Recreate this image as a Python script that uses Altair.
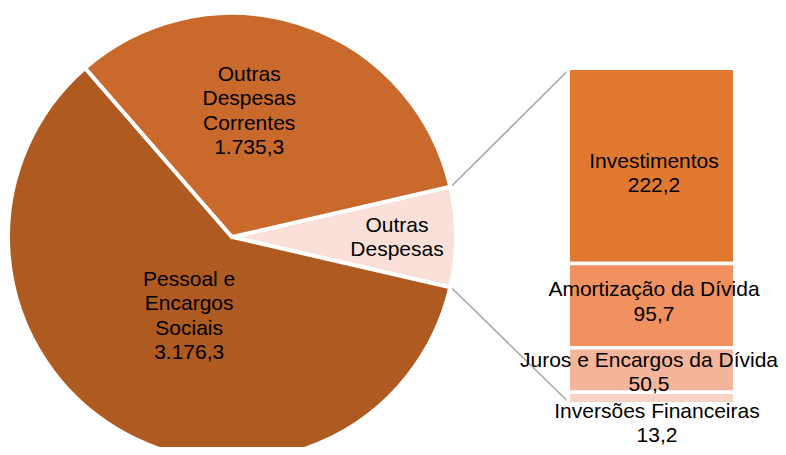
import math
import altair as alt
import pandas as pd

# ---- data ----
bar_categorias = ["Investimentos", "Amortização da Dívida", "Juros e Encargos da Dívida", "Inversões Financeiras"]
bar_valores = [222.2, 95.7, 50.5, 13.2]
bar_cores = ["#E07830", "#F0915F", "#F4B59B", "#F9D4C6"]

pie_categorias = ["Outras Despesas", "Pessoal e Encargos Sociais", "Outras Despesas Correntes"]
pie_nomes = ["Outras\nDespesas", "Pessoal e\nEncargos\nSociais", "Outras\nDespesas\nCorrentes"]
pie_valores = [round(sum(bar_valores), 1), 3176.3, 1735.3]
pie_mostra_valor = [False, True, True]
pie_cores = ["#FAE0D8", "#AE5A21", "#C9692B"]


def fmt(v):
    s = f"{v:,.1f}"
    return s.replace(",", "X").replace(".", ",").replace("X", ".")


pie_df = pd.DataFrame({
    "categoria": pie_categorias,
    "valor": pie_valores,
    "rotulo": [n + ("\n" + fmt(v) if m else "") for n, v, m in zip(pie_nomes, pie_valores, pie_mostra_valor)],
    "ordem": list(range(len(pie_categorias))),
})
bar_df = pd.DataFrame({
    "categoria": bar_categorias,
    "valor": bar_valores,
    "rotulo": [f"{c}\n{fmt(v)}" for c, v in zip(bar_categorias, bar_valores)],
    "ordem": list(range(len(bar_categorias))),
})

# ---- layout ----
W, H = 770, 439
cx, cy, R = 224, 229, 222
total_pie = sum(pie_valores)
total_bar = sum(bar_valores)
frac = pie_valores[0] / total_pie
start = math.pi / 2 - frac * math.pi
end_ang = math.pi / 2 + frac * math.pi
bar_left, bar_right = 560.25, 726.75

FONT = "Liberation Sans"
FS = 21
LH = 24.5


def block(n):
    # shift so that a block of n lines is centred on its anchor
    return -(n - 1) * LH / 2


color_scale = alt.Scale(domain=pie_categorias + bar_categorias, range=pie_cores + bar_cores)
theta_scale = alt.Scale(domain=[0, total_pie], range=[start, start + 2 * math.pi])
y_scale = alt.Scale(domain=[0, total_bar], range=[395.75, 60.25], nice=False, zero=False)

pie_base = alt.Chart(pie_df).transform_stack(
    stack="valor", groupby=[], as_=["s0", "s1"], sort=[alt.SortField("ordem", order="ascending")]
).transform_calculate(smid="(datum.s0 + datum.s1) / 2")

arcs = pie_base.mark_arc(outerRadius=R + 2, stroke="white", strokeWidth=4).encode(
    theta=alt.Theta("s0:Q", scale=theta_scale),
    theta2="s1:Q",
    x=alt.value(cx),
    y=alt.value(cy),
    color=alt.Color("categoria:N", scale=color_scale, legend=None),
)

pie_label_pos = [
    ("Outras Despesas", 165, 0, 1, 2),
    ("Pessoal e Encargos Sociais", 89, 3, 3, 4),
    ("Outras Despesas Correntes", 130, -23, -2, 4),
]
pie_texts = []
for cat, rad, ddx, ddy, nl in pie_label_pos:
    pie_texts.append(
        pie_base.transform_filter(alt.datum.categoria == cat).mark_text(
            radius=rad, dx=ddx, dy=ddy + block(nl), font=FONT, fontSize=FS, lineHeight=LH,
            lineBreak="\n", align="center", baseline="middle", color="black",
        ).encode(
            theta=alt.Theta("smid:Q", scale=theta_scale),
            x=alt.value(cx),
            y=alt.value(cy),
            text="rotulo:N",
        )
    )

bar_base = alt.Chart(bar_df).transform_stack(
    stack="valor", groupby=[], as_=["b0", "b1"], sort=[alt.SortField("ordem", order="descending")]
).transform_calculate(bmid="(datum.b0 + datum.b1) / 2")

bars = bar_base.mark_bar(stroke="white", strokeWidth=3.5).encode(
    x=alt.value(bar_left),
    x2=alt.value(bar_right),
    y=alt.Y("b0:Q", scale=y_scale, axis=None),
    y2="b1:Q",
    color=alt.Color("categoria:N", scale=color_scale, legend=None),
)

bar_label_pos = [
    (bar_categorias[0], 646, 8),
    (bar_categorias[1], 646, -3),
    (bar_categorias[2], 641, 3),
    (bar_categorias[3], 649, 26),
]
bar_texts = []
for cat, xx, ddy in bar_label_pos:
    bar_texts.append(
        bar_base.transform_filter(alt.datum.categoria == cat).mark_text(
            dy=ddy + block(2), font=FONT, fontSize=FS, lineHeight=LH, lineBreak="\n",
            align="center", baseline="middle", color="black",
        ).encode(
            x=alt.value(xx),
            y=alt.Y("bmid:Q", scale=y_scale, axis=None),
            text="rotulo:N",
        )
    )

# connector lines
Rl = R + 3
px_top = cx + Rl * math.sin(start)
py_top = cy - Rl * math.cos(start)
px_bot = cx + Rl * math.sin(end_ang)
py_bot = cy - Rl * math.cos(end_ang)
dummy = pd.DataFrame({"k": [0]})
rule_top = alt.Chart(dummy).mark_rule(color="#A6A6A6", strokeWidth=1.5).encode(
    x=alt.value(bar_left + 2),
    x2=alt.value(px_top),
    y=alt.Y(datum=total_bar, scale=y_scale, axis=None),
    y2=alt.value(py_top),
)
rule_bot = alt.Chart(dummy).mark_rule(color="#A6A6A6", strokeWidth=1.5).encode(
    x=alt.value(bar_left + 2),
    x2=alt.value(px_bot),
    y=alt.Y(datum=0, scale=y_scale, axis=None),
    y2=alt.value(py_bot),
)

chart = alt.layer(
    rule_top, rule_bot, arcs, *pie_texts, bars, *bar_texts
).properties(
    width=W, height=H, padding=0, autosize=alt.AutoSizeParams(type="none")
).configure_view(strokeWidth=0)

chart.save("out.html", embed_options={"renderer": "svg", "actions": False})
